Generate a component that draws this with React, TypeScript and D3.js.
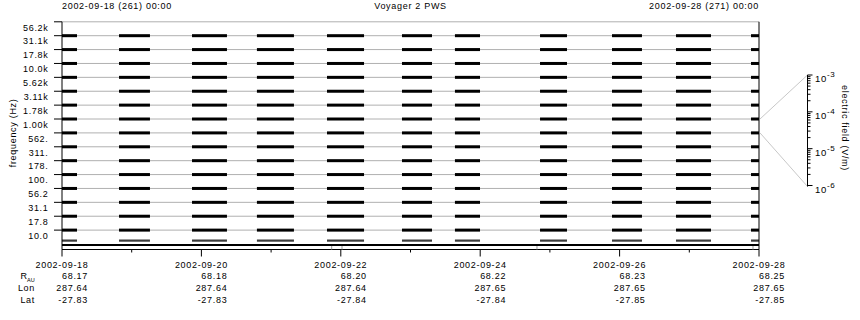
import React from 'react';
import * as d3 from 'd3';

// Channel labels, top (highest frequency) to bottom
const channelLabels = ['56.2k', '31.1k', '17.8k', '10.0k', '5.62k', '3.11k', '1.78k', '1.00k', '562.', '311.', '178.', '100.', '56.2', '31.1', '17.8', '10.0'];

// Data-coverage segments (UTC)
const segmentStarts = ['2002-09-18T00:00', '2002-09-18T19:38', '2002-09-19T20:46', '2002-09-20T19:07', '2002-09-21T19:15', '2002-09-22T21:04', '2002-09-23T15:18', '2002-09-24T20:36', '2002-09-25T21:23', '2002-09-26T19:25', '2002-09-27T21:15'];
const segmentEnds = ['2002-09-18T05:10', '2002-09-19T06:17', '2002-09-20T08:48', '2002-09-21T07:52', '2002-09-22T08:00', '2002-09-23T07:24', '2002-09-23T23:56', '2002-09-25T05:53', '2002-09-26T07:42', '2002-09-27T07:28', '2002-09-28T00:00'];

// Small marks in the strip below the plot
const stripMarks = ['2002-09-21T20:52', '2002-09-22T00:25', '2002-09-24T19:33', '2002-09-27T21:56'];

// Bottom axis labels
const dateTicks = ['2002-09-18', '2002-09-20', '2002-09-22', '2002-09-24', '2002-09-26', '2002-09-28'];
const rAU = ['68.17', '68.18', '68.20', '68.22', '68.23', '68.25'];
const lonVals = ['287.64', '287.64', '287.64', '287.65', '287.65', '287.65'];
const latVals = ['-27.83', '-27.83', '-27.84', '-27.84', '-27.85', '-27.85'];

// Colour-bar decades
const efieldExponents = [-6, -5, -4, -3];
const connectorChannel = '1.00k';

const title = 'Voyager 2 PWS';
const headerLeft = '2002-09-18 (261) 00:00';
const headerRight = '2002-09-28 (271) 00:00';

const FONT = '"Liberation Sans", Arial, Helvetica, sans-serif';
const FS = 9;
const LS = 0.7;

export default function App() {
  const parse = d3.utcParse('%Y-%m-%dT%H:%M');
  const parseDay = d3.utcParse('%Y-%m-%d');
  const left = 62, right = 759, top = 21.8, bottom = 244;
  const x = d3.scaleUtc().domain([parseDay('2002-09-18')!, parseDay('2002-09-28')!]).range([left, right]);
  const y = d3.scaleLinear().domain([0, channelLabels.length]).range([top, bottom]);
  const cy = d3.scaleLog().domain([1e-6, 1e-3]).range([185.5, 75]);
  const cbX = 807.5;

  const segs = segmentStarts.map((s, i) => ({ s: parse(s)!, e: parse(segmentEnds[i])! }));
  const minorDays = x.ticks(d3.utcDay.every(1)!);
  const stripBottom = 249.5;

  const minorCb: number[] = [];
  for (let e = -6; e < -3; e++) {
    for (let m = 2; m <= 9; m++) minorCb.push(m * Math.pow(10, e));
  }
  const ci = channelLabels.indexOf(connectorChannel);

  const textProps = { fontFamily: FONT, fontSize: FS, letterSpacing: LS, fill: '#000' } as const;

  return (
    <svg width={860} height={320} style={{ position: 'absolute', left: 0, top: 0, background: '#fff' }}>
      <rect x={0} y={0} width={860} height={320} fill="#fff" />
      {/* header */}
      <text {...textProps} x={left} y={9}>{headerLeft}</text>
      <text {...textProps} x={(left + right) / 2} y={9} textAnchor="middle">{title}</text>
      <text {...textProps} x={right} y={9} textAnchor="end">{headerRight}</text>

      {/* top border */}
      <line x1={left} x2={right} y1={top} y2={top} stroke="#b0b0b0" />
      {/* grid lines at channel baselines */}
      {channelLabels.slice(0, -1).map((_, k) => (
        <line key={'g' + k} x1={left} x2={right} y1={y(k + 1)} y2={y(k + 1)} stroke="#b0b0b0" />
      ))}

      {/* data bars */}
      {channelLabels.map((lab, k) =>
        segs.map((sg, j) => {
          const last = k === channelLabels.length - 1;
          const yb = y(k + 1);
          return (
            <rect key={lab + j} x={x(sg.s)} width={x(sg.e) - x(sg.s)}
              y={last ? yb - 4.5 : yb - 1.5} height={last ? 2.2 : 3}
              fill={last ? '#3a3a3a' : '#000'} />
          );
        })
      )}

      {/* left axis ticks & labels */}
      {channelLabels.map((lab, k) => (
        <g key={'l' + k}>
          <line x1={left - 8} x2={left} y1={y(k)} y2={y(k)} stroke="#000" />
          <text {...textProps} x={48.5} y={(y(k) + y(k + 1)) / 2 + 1.8} textAnchor="end">{lab}</text>
        </g>
      ))}
      <text {...textProps} transform={`translate(16,${(top + bottom) / 2}) rotate(-90)`} textAnchor="middle">frequency (Hz)</text>

      {/* frame */}
      <line x1={left} x2={left} y1={top} y2={stripBottom} stroke="#000" />
      <line x1={right} x2={right} y1={top} y2={stripBottom} stroke="#000" />
      <line x1={left} x2={right} y1={bottom + 0.5} y2={bottom + 0.5} stroke="#000" />
      <line x1={left} x2={right} y1={bottom + 1.5} y2={bottom + 1.5} stroke="#000" />
      <line x1={left} x2={right} y1={stripBottom} y2={stripBottom} stroke="#000" />
      {stripMarks.map((m, i) => (
        <line key={'sm' + i} x1={x(parse(m)!)} x2={x(parse(m)!)} y1={bottom + 2} y2={stripBottom} stroke="#999" />
      ))}

      {/* x ticks */}
      {minorDays.map((d, i) => {
        const major = dateTicks.includes(d3.utcFormat('%Y-%m-%d')(d));
        return <line key={'xt' + i} x1={x(d)} x2={x(d)} y1={stripBottom} y2={stripBottom + (major ? 7 : 3)} stroke="#000" />;
      })}
      {dateTicks.map((dt, i) => {
        const xv = x(parseDay(dt)!);
        return (
          <g key={'dl' + i}>
            <text {...textProps} x={xv} y={267.5} textAnchor="middle">{dt}</text>
            <text {...textProps} x={xv + 26} y={279.3} textAnchor="end">{rAU[i]}</text>
            <text {...textProps} x={xv + 26} y={291.3} textAnchor="end">{lonVals[i]}</text>
            <text {...textProps} x={xv + 26} y={303.3} textAnchor="end">{latVals[i]}</text>
          </g>
        );
      })}
      <text {...textProps} x={20.5} y={279.3}>R</text>
      <text {...textProps} x={27} y={281.5} fontSize={5.5} letterSpacing={0.2}>AU</text>
      <text {...textProps} x={35} y={291.3} textAnchor="end">Lon</text>
      <text {...textProps} x={35} y={303.3} textAnchor="end">Lat</text>

      {/* colour bar axis */}
      <line x1={right + 1} y1={y(ci)} x2={cbX} y2={cy(1e-3)} stroke="#c8c8c8" />
      <line x1={right + 1} y1={y(ci + 1)} x2={cbX} y2={cy(1e-6) + 1} stroke="#c8c8c8" />
      <line x1={cbX} x2={cbX} y1={cy(1e-3)} y2={cy(1e-6) + 1} stroke="#000" />
      {minorCb.map((v, i) => (
        <line key={'cm' + i} x1={cbX} x2={cbX + 3} y1={cy(v)} y2={cy(v)} stroke="#000" />
      ))}
      {efieldExponents.map((e) => {
        const yy = cy(Math.pow(10, e));
        return (
          <g key={'ce' + e}>
            <line x1={cbX} x2={cbX + 5} y1={yy} y2={yy} stroke="#000" />
            <text {...textProps} x={815} y={yy + 7} fontSize={9.5}>10<tspan fontSize={8} dy={-5}>{String(e)}</tspan></text>
          </g>
        );
      })}
      <text {...textProps} transform={`translate(842,${128}) rotate(90)`} textAnchor="middle">electric field (V/m)</text>
    </svg>
  );
}
